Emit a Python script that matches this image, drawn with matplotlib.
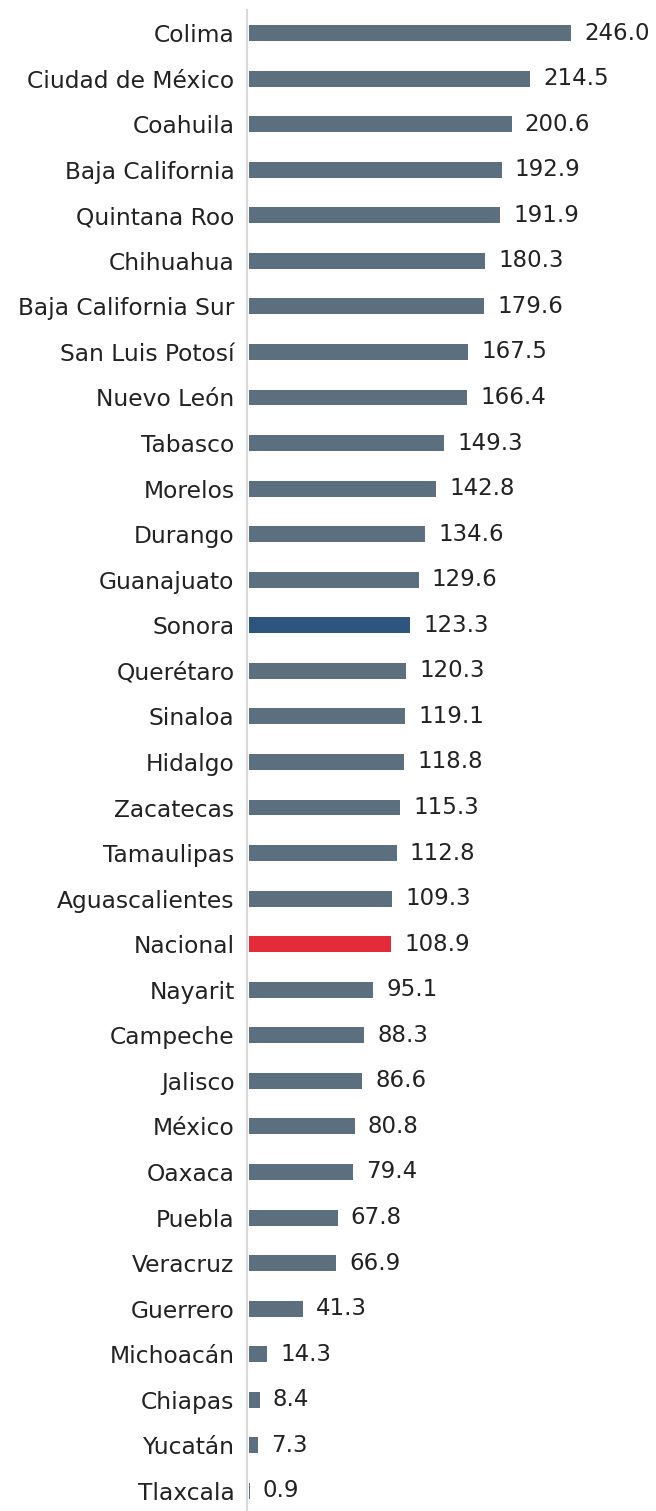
import matplotlib
matplotlib.use("Agg")
import matplotlib.pyplot as plt

states = ["Colima", "Ciudad de México", "Coahuila", "Baja California", "Quintana Roo",
          "Chihuahua", "Baja California Sur", "San Luis Potosí", "Nuevo León", "Tabasco",
          "Morelos", "Durango", "Guanajuato", "Sonora", "Querétaro", "Sinaloa", "Hidalgo",
          "Zacatecas", "Tamaulipas", "Aguascalientes", "Nacional", "Nayarit", "Campeche",
          "Jalisco", "México", "Oaxaca", "Puebla", "Veracruz", "Guerrero", "Michoacán",
          "Chiapas", "Yucatán", "Tlaxcala"]
values = [246.0, 214.5, 200.6, 192.9, 191.9, 180.3, 179.6, 167.5, 166.4, 149.3,
          142.8, 134.6, 129.6, 123.3, 120.3, 119.1, 118.8, 115.3, 112.8, 109.3,
          108.9, 95.1, 88.3, 86.6, 80.8, 79.4, 67.8, 66.9, 41.3, 14.3, 8.4, 7.3, 0.9]

base_color = "#5B6F7E"
highlight = {"Sonora": "#2E5480", "Nacional": "#E32B3A"}
colors = [highlight.get(s, base_color) for s in states]

plt.rcParams['font.family'] = ['DejaVu Sans']

W, H = 656, 1511
fig = plt.figure(figsize=(W / 100, H / 100), dpi=100)
ax = fig.add_axes([247 / W, 0, (W - 247) / W, (H - 10) / H])

spacing = 45.56
first = 33 - 10
n = len(states)
ypos = list(range(n))
ax.barh(ypos, values, height=0.35, color=colors, zorder=3)
ax.set_ylim((H - 10 - first) / spacing, -first / spacing)
ax.set_xlim(-1.2, (W - 247) / 1.317)

for y, v in zip(ypos, values):
    ax.text(v + 10.0, y, f"{v:.1f}", va="center", ha="left", fontsize=16.5, color="#222222")

ax.set_yticks(ypos)
ax.set_yticklabels(states, fontsize=16.8, color="#222222")
ax.tick_params(axis="y", length=0, pad=9)
ax.set_xticks([])
for s in ["top", "right", "bottom"]:
    ax.spines[s].set_visible(False)
ax.spines["left"].set_color("#D9D9D9")
ax.spines["left"].set_linewidth(1.5)
ax.spines["left"].set_zorder(1)

fig.savefig("out.png", dpi=100)
